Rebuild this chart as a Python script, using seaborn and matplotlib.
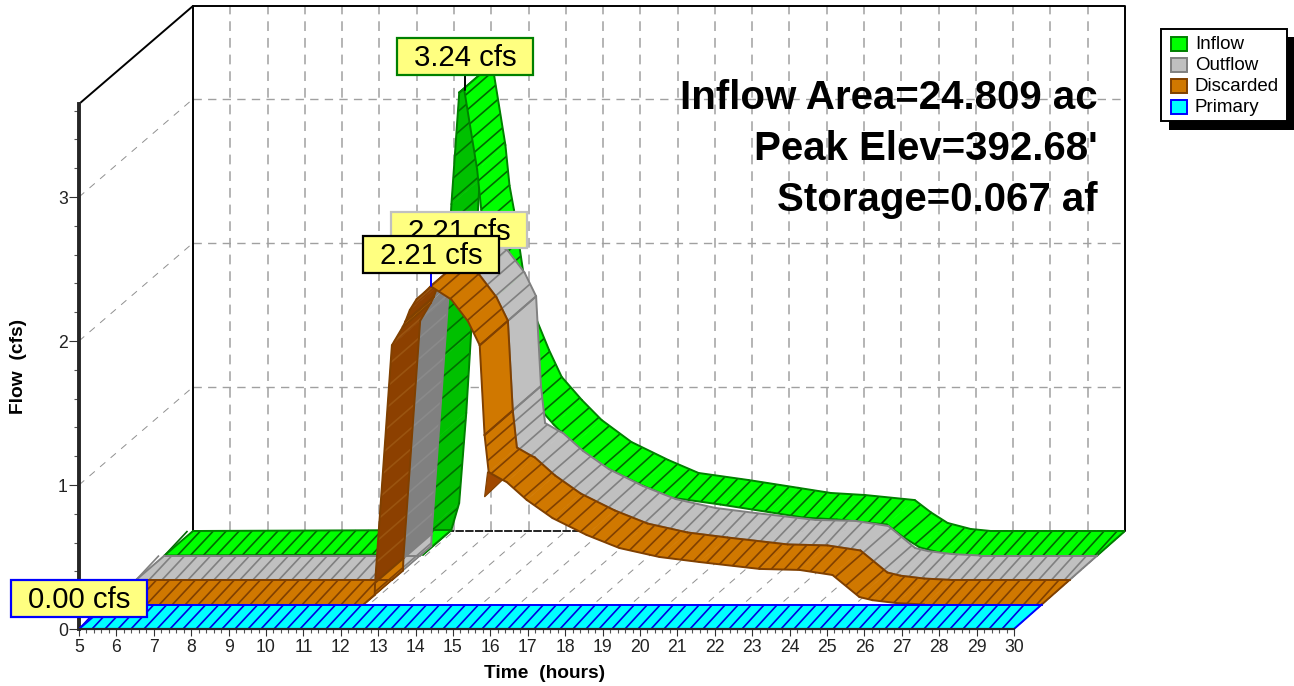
import numpy as np
import pandas as pd
import matplotlib
matplotlib.use("Agg")
import matplotlib.pyplot as plt
import seaborn as sns
from matplotlib.collections import LineCollection
from matplotlib.patches import Polygon, Rectangle

# values
inflow_t = [5, 11.93, 12.14, 12.33, 12.46, 12.69, 12.90, 13.03, 13.38, 13.49, 13.61, 13.88, 14.22, 14.55,
            14.89, 15.43, 15.96, 16.76, 17.75, 18.56, 19.9, 21.23, 22.11, 23.02, 24.36, 24.79, 25.24, 25.86, 26.4, 30]
inflow_q = [0, 0.007, 0.194, 0.82, 1.375, 2.44, 3.215, 3.24, 2.68, 2.40, 2.23, 1.76, 1.465, 1.257,
            1.07, 0.91, 0.771, 0.618, 0.493, 0.403, 0.354, 0.30, 0.264, 0.25, 0.215, 0.13, 0.056, 0.014, 0, 0]

outflow_t = [5, 11.85, 12.15, 12.16, 12.61, 12.90, 12.97, 13.09, 13.27, 13.49, 13.65, 14.2, 14.65, 14.96, 15.09,
             15.20, 15.57, 15.68, 16.22, 16.91, 17.82, 18.70, 19.77, 20.84, 22.45, 23.52, 24.4, 25.12, 25.47,
             26.11, 26.86, 30]
outflow_q = [0, 0, 0.066, 0.15, 1.80, 1.927, 1.965, 2.045, 2.12, 2.17, 2.21, 2.118, 1.965, 1.80, 1.177,
             0.92, 0.865, 0.851, 0.726, 0.60, 0.483, 0.392, 0.33, 0.295, 0.247, 0.24, 0.205, 0.052, 0.03,
             0.01, 0, 0]

discarded_t = list(outflow_t)
discarded_q = list(outflow_q)

primary_t = [5, 30]
primary_q = [0, 0]

# small fold where the discarded flow drops and recovers
fold_t = [15.09, 15.57, 15.17]
fold_q = [0.747, 0.865, 0.92]

# rising pieces that the reference still paints in the light colour
light_starts = [12.15, 12.90]

legend_names = ["Inflow", "Outflow", "Discarded", "Primary"]
stats_lines = ["Inflow Area=24.809 ac", "Peak Elev=392.68'", "Storage=0.067 af"]
peak_labels = ["3.24 cfs", "2.21 cfs", "2.21 cfs", "0.00 cfs"]
hours = list(range(5, 31))
flows = [0, 1, 2, 3]

W, H = 1294, 686
PX_T, PX_Q = 37.4, 144.0
DEPTH_T, DEPTH_Q = 28.5 / PX_T, 24.5 / PX_Q
SHRINK = 0.0008
WALL = 4

sns.set_style("white")
plt.rcParams["font.family"] = ["Liberation Sans", "DejaVu Sans"]
plt.rcParams["lines.scale_dashes"] = False

fig = plt.figure(figsize=(W / 100, H / 100), dpi=100)
ax = fig.add_axes([79 / W, (H - 629) / H, (1125 - 79) / W, (629 - 5) / H])
ax.set_xlim(5, 5 + (1125 - 79) / PX_T)
ax.set_ylim(0, (629 - 5) / PX_Q)
ax.patch.set_alpha(0)


def proj(t, q, depth):
    return t + depth * DEPTH_T - depth * (t - 5) * SHRINK, q + depth * DEPTH_Q


def wall_line(x, y, color, lw, style="-", z=1):
    df = pd.DataFrame({"x": x, "y": y})
    sns.lineplot(data=df, x="x", y="y", ax=ax, color=color, lw=lw, linestyle=style, sort=False,
                 estimator=None, legend=False, zorder=z, clip_on=False)


top_q = 3.646
DASH_V = (0, (7, 5))
DASH_H = (0, (6, 4.5))
DASH_F = (0, (5, 5))

# back wall grid, side wall and floor diagonals
for h in hours[1:-1]:
    bx, by = proj(h, 0, WALL)
    wall_line([bx, bx], [by, by + top_q], "#b4b4b4", 1.4, DASH_V)
for f in flows[1:]:
    x0, y0 = proj(5, f, 0)
    x1, y1 = proj(5, f, WALL)
    x2, y2 = proj(30, f, WALL)
    wall_line([x0, x1], [y0, y1], "#909090", 0.7, DASH_F)
    wall_line([x1, x2], [y1, y2], "#a0a0a0", 1.0, DASH_H)
for h in hours[1:-1]:
    x0, y0 = proj(h, 0, 0)
    x1, y1 = proj(h, 0, WALL)
    wall_line([x0, x1], [y0, y1], "#909090", 0.7, DASH_F)

# box frame
bl = proj(5, 0, WALL)
br = proj(30, 0, WALL)
tl = proj(5, top_q, WALL)
tr = proj(30, top_q, WALL)
fl = proj(5, top_q, 0)
wall_line([bl[0], tl[0], tr[0], br[0]], [bl[1], tl[1], tr[1], br[1]], "black", 1.4, z=2)
wall_line([fl[0], tl[0]], [fl[1], tl[1]], "black", 1.4, z=2)
wall_line([bl[0], br[0]], [bl[1], br[1]], "#222222", 1.4, (0, (6, 1)), z=2)
wall_line([30, br[0]], [0, br[1]], "#222222", 0.8, (0, (4, 1.5)), z=2)


def ribbon(times, vals, depth, lit, dark, edge, hatch_lit, hatch_dark, z, fold=None, keep_light=()):
    t = np.array(times, float)
    q = np.array(vals, float)
    n = len(t) - 1
    under = []
    solid = []
    marks = []
    skews = []
    travelled = 0.0
    for i in range(n):
        dx = (t[i + 1] - t[i]) * PX_T
        dy = (q[i + 1] - q[i]) * PX_Q
        is_under = dy > dx * 24.5 / 28.5 and t[i] not in keep_light
        is_solid = dy < 0 and abs(dy) > 11 * dx
        step = np.hypot(dx, 0.9 * dy)
        spacing = 20.0 if is_under else 13.0
        mm = []
        if not is_solid:
            k = np.ceil(travelled / spacing)
            while k * spacing < travelled + step:
                mm.append((k * spacing - travelled) / step)
                k += 1
        travelled += step
        under.append(is_under)
        solid.append(is_solid)
        marks.append(mm)
        skews.append(5.5 / PX_T * max(0.0, 1 - abs(dy) / (0.6 * dx)))

    def layer(idx, face, hatch, zz):
        # faces first, then outlines and hatch so that nothing cuts the lines
        for i in idx:
            pts = [proj(t[i], q[i], depth), proj(t[i + 1], q[i + 1], depth),
                   proj(t[i + 1], q[i + 1], depth + 1), proj(t[i], q[i], depth + 1)]
            ax.add_patch(Polygon(pts, closed=True, facecolor=face, edgecolor=face, lw=0.4, zorder=zz))
        outline = []
        segs = []
        for i in idx:
            a0, a1 = proj(t[i], q[i], depth), proj(t[i + 1], q[i + 1], depth)
            b0, b1 = proj(t[i], q[i], depth + 1), proj(t[i + 1], q[i + 1], depth + 1)
            outline += [[a0, a1], [b0, b1]]
            # cross edges only where a panel starts or ends
            if i == 0 or under[i - 1] != under[i] or solid[i - 1] or solid[i]:
                outline.append([a0, b0])
            if i == n - 1 or under[i + 1] != under[i] or solid[i + 1] or solid[i]:
                outline.append([a1, b1])
            for m in marks[i]:
                tm = t[i] + m * (t[i + 1] - t[i])
                qm = q[i] + m * (q[i + 1] - q[i])
                bx, by = proj(tm, qm, depth + 1)
                segs.append([proj(tm, qm, depth), (bx - skews[i], by)])
        ax.add_collection(LineCollection(segs, colors=hatch, linewidths=1.2, zorder=zz + 0.01))
        ax.add_collection(LineCollection(outline, colors=edge, linewidths=1.4, zorder=zz + 0.02, capstyle="round"))

    layer([i for i in range(n) if under[i]], dark, hatch_dark, z)
    if fold is not None:
        pts = [proj(a, b, depth) for a, b in zip(*fold)]
        ax.add_patch(Polygon(pts, closed=True, facecolor="#a04800", edgecolor=edge, lw=0.8, zorder=z + 0.1))
    layer([i for i in range(n) if not under[i]], lit, hatch_lit, z + 0.2)


ribbon(inflow_t, inflow_q, 3, "#00ff00", "#00c000", "#008000", "#006800", "#007000", 5)
ribbon(outflow_t, outflow_q, 2, "#c0c0c0", "#808080", "#808080", "#808080", "#8a8a8a", 6, keep_light=light_starts)
ribbon(discarded_t, discarded_q, 1, "#d07800", "#8c4000", "#804000", "#804000", "#9a5410", 7, (fold_t, fold_q),
       keep_light=light_starts)
ribbon(primary_t, primary_q, 0, "#00ffff", "#00ffff", "#0000ff", "#0000e0", "#0000e0", 8)

# axes
for side in ["top", "right"]:
    ax.spines[side].set_visible(False)
ax.spines["left"].set_bounds(0, top_q)
ax.spines["left"].set_linewidth(2.8)
ax.spines["bottom"].set_bounds(5, 30)
ax.spines["bottom"].set_linewidth(1.6)
ax.spines["left"].set_zorder(3)
ax.spines["bottom"].set_zorder(9)
ax.set_xticks(hours)
ax.set_xticks(np.arange(5, 30.01, 0.2), minor=True)
ax.set_yticks(flows)
ax.set_yticks(np.arange(0, 3.61, 0.2), minor=True)
ax.tick_params(axis="x", which="major", length=5, width=0.8, labelsize=12.7, pad=2, color="#333333", labelcolor="#222222", bottom=True)
ax.tick_params(axis="x", which="minor", length=2.6, width=0.8, color="#555555", bottom=True)
ax.tick_params(axis="y", which="major", length=7, width=0.8, labelsize=12.7, pad=1, color="#333333", labelcolor="#222222", left=True)
ax.tick_params(axis="y", which="minor", length=3.6, width=0.8, color="#555555", left=True)
ax.set_xlabel("")
ax.set_ylabel("")

# overlay in picture pixels for the annotations
ov = fig.add_axes([0, 0, 1, 1], zorder=5)
ov.set_xlim(0, W)
ov.set_ylim(H, 0)
ov.axis("off")

ov.text(545, 673, "Time  (hours)", ha="center", va="center", fontsize=13.8, fontweight="bold", color="black")
ov.text(19, 366, "Flow  (cfs)", ha="center", va="center", rotation=90, fontsize=13.8, fontweight="bold", color="black")

for txt, yy in zip(stats_lines, [98, 149, 200]):
    ov.text(1098, yy, txt, ha="right", va="center", fontsize=29, fontweight="bold", color="black")

# leader lines and peak boxes
ov.plot([465, 465], [75, 90], color="black", lw=1.4, zorder=2)
ov.plot([431, 431], [273, 286], color="#0000ff", lw=1.4, zorder=2)
boxes = [(397, 38, 136, 37, "#008000"), (391, 212, 136, 36, "#c0c0c0"), (363, 236, 136, 37, "black"), (11, 580, 136, 37, "#0000ff")]
for i, (lab, b) in enumerate(zip(peak_labels, boxes)):
    x, y, w, h, col = b
    ov.add_patch(Rectangle((x, y), w, h, facecolor="#ffff80", edgecolor=col, lw=1.6, zorder=3 + i))
    ov.text(x + w / 2, y + h / 2 + 2, lab, ha="center", va="center", fontsize=21.2, color="black", zorder=3 + i)

# legend with its shadow
ov.add_patch(Rectangle((1169, 37), 125, 93, facecolor="black", edgecolor="none", zorder=3))
ov.add_patch(Rectangle((1161, 29), 126, 92, facecolor="white", edgecolor="black", lw=1.4, zorder=4))
swatches = [("#00ff00", "#008000"), ("#c0c0c0", "#808080"), ("#d07800", "#804000"), ("#00ffff", "#0000ff")]
for i, (name, sw) in enumerate(zip(legend_names, swatches)):
    yy = 37 + i * 21
    ov.add_patch(Rectangle((1170.5, yy), 16, 14, facecolor=sw[0], edgecolor=sw[1], lw=1.4, zorder=5))
    ov.text(1195, yy + 7.5, name, ha="left", va="center", fontsize=13.5, color="black", zorder=5)

fig.savefig("out.png", dpi=100)
